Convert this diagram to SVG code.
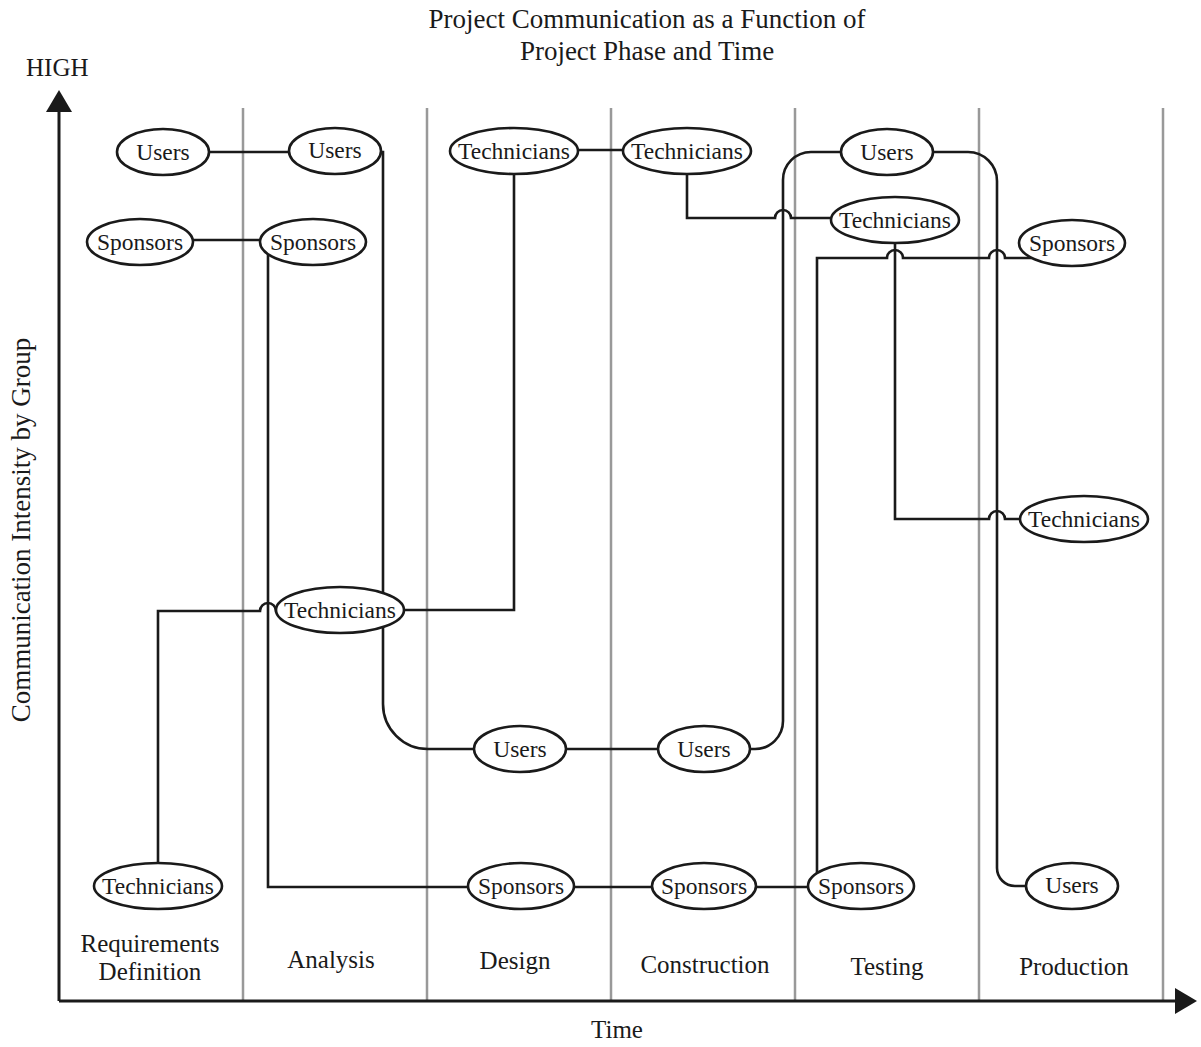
<svg xmlns="http://www.w3.org/2000/svg" width="1201" height="1047" viewBox="0 0 1201 1047">
<style>
text{font-family:"Liberation Serif","Times New Roman",serif;fill:#1a1a1a}
.grid{stroke:#999;stroke-width:2.5;fill:none}
.axis{stroke:#1a1a1a;stroke-width:3;fill:none}
.conn path{stroke:#1a1a1a;stroke-width:2.6;fill:none}
.node ellipse{fill:#fff;stroke:#1a1a1a;stroke-width:2.6}
.node text{font-size:23.5px;text-anchor:middle}
.phase{font-size:25px;text-anchor:middle}
.title{font-size:27px;text-anchor:middle}
</style>
<rect width="1201" height="1047" fill="#fff"/>
<g id="title">
<text class="title" x="647" y="28">Project Communication as a Function of</text>
<text class="title" x="647" y="60">Project Phase and Time</text>
</g>
<g id="grid">
<line class="grid" x1="243" y1="108" x2="243" y2="1001"/>
<line class="grid" x1="427" y1="108" x2="427" y2="1001"/>
<line class="grid" x1="611" y1="108" x2="611" y2="1001"/>
<line class="grid" x1="795" y1="108" x2="795" y2="1001"/>
<line class="grid" x1="979" y1="108" x2="979" y2="1001"/>
<line class="grid" x1="1163" y1="108" x2="1163" y2="1001"/>
</g>
<g id="axes">
<path class="axis" d="M59,1001 V108"/>
<path class="axis" d="M59,1001 H1178"/>
<polygon points="59,90 46,112 72,112" fill="#1a1a1a"/>
<polygon points="1197,1001 1175,988 1175,1014" fill="#1a1a1a"/>
<text x="26" y="76" font-size="25">HIGH</text>
<text x="617" y="1038" font-size="25" text-anchor="middle">Time</text>
<text transform="translate(30,530) rotate(-90)" font-size="27" text-anchor="middle">Communication Intensity by Group</text>
</g>
<g id="phases">
<text class="phase" x="150" y="952">Requirements</text>
<text class="phase" x="150" y="980">Definition</text>
<text class="phase" x="331" y="968">Analysis</text>
<text class="phase" x="515" y="969">Design</text>
<text class="phase" x="705" y="973">Construction</text>
<text class="phase" x="887" y="975">Testing</text>
<text class="phase" x="1074" y="975">Production</text>
</g>
<g id="connectors" class="conn">
<path d="M200,152 H300"/>
<path d="M185,240 H270"/>
<path d="M380,152 H383 V704 A45,45 0 0 0 428,749 H480"/>
<path d="M560,749 H665"/>
<path d="M745,749 H755 A28,28 0 0 0 783,721 V180 A28,28 0 0 1 811,152 H850"/>
<path d="M925,152 H968 A29,29 0 0 1 997,181 V868 A18,18 0 0 0 1015,886 H1035"/>
<path d="M158,870 V611 H260 A8,8 0 0 1 276,611 H285"/>
<path d="M268,250 V887 H475"/>
<path d="M395,610 H514 V165"/>
<path d="M570,150 H630"/>
<path d="M687,165 V218 H775 A8,8 0 0 1 791,218 H840"/>
<path d="M565,887 H660"/>
<path d="M750,887 H815"/>
<path d="M817,880 V258 H887 A8,8 0 0 1 903,258 H989 A8,8 0 0 1 1005,258 H1035"/>
<path d="M895,235 V519 H989 A8,8 0 0 1 1005,519 H1030"/>
</g>
<g id="n-rd-users" class="node"><ellipse cx="163" cy="152" rx="46" ry="23"/><text x="163" y="160">Users</text></g>
<g id="n-rd-sponsors" class="node"><ellipse cx="140" cy="242" rx="53" ry="23"/><text x="140" y="250">Sponsors</text></g>
<g id="n-rd-tech" class="node"><ellipse cx="158" cy="886" rx="64" ry="23"/><text x="158" y="894">Technicians</text></g>
<g id="n-an-users" class="node"><ellipse cx="335" cy="151" rx="46" ry="23"/><text x="335" y="158">Users</text></g>
<g id="n-an-sponsors" class="node"><ellipse cx="313" cy="242" rx="53" ry="23"/><text x="313" y="250">Sponsors</text></g>
<g id="n-an-tech" class="node"><ellipse cx="340" cy="610" rx="64" ry="23"/><text x="340" y="618">Technicians</text></g>
<g id="n-de-tech" class="node"><ellipse cx="514" cy="151" rx="64" ry="23"/><text x="514" y="159">Technicians</text></g>
<g id="n-de-users" class="node"><ellipse cx="520" cy="749" rx="46" ry="23"/><text x="520" y="757">Users</text></g>
<g id="n-de-sponsors" class="node"><ellipse cx="521" cy="886" rx="53" ry="23"/><text x="521" y="894">Sponsors</text></g>
<g id="n-co-tech" class="node"><ellipse cx="687" cy="151" rx="64" ry="23"/><text x="687" y="159">Technicians</text></g>
<g id="n-co-users" class="node"><ellipse cx="704" cy="749" rx="46" ry="23"/><text x="704" y="757">Users</text></g>
<g id="n-co-sponsors" class="node"><ellipse cx="704" cy="886" rx="52" ry="23"/><text x="704" y="894">Sponsors</text></g>
<g id="n-te-users" class="node"><ellipse cx="887" cy="152" rx="46" ry="23"/><text x="887" y="160">Users</text></g>
<g id="n-te-tech" class="node"><ellipse cx="895" cy="220" rx="64" ry="23"/><text x="895" y="228">Technicians</text></g>
<g id="n-te-sponsors" class="node"><ellipse cx="861" cy="886" rx="53" ry="23"/><text x="861" y="894">Sponsors</text></g>
<g id="n-pr-sponsors" class="node"><ellipse cx="1072" cy="243" rx="53" ry="23"/><text x="1072" y="251">Sponsors</text></g>
<g id="n-pr-tech" class="node"><ellipse cx="1084" cy="519" rx="64" ry="23"/><text x="1084" y="527">Technicians</text></g>
<g id="n-pr-users" class="node"><ellipse cx="1072" cy="886" rx="46" ry="23"/><text x="1072" y="893">Users</text></g>
</svg>
